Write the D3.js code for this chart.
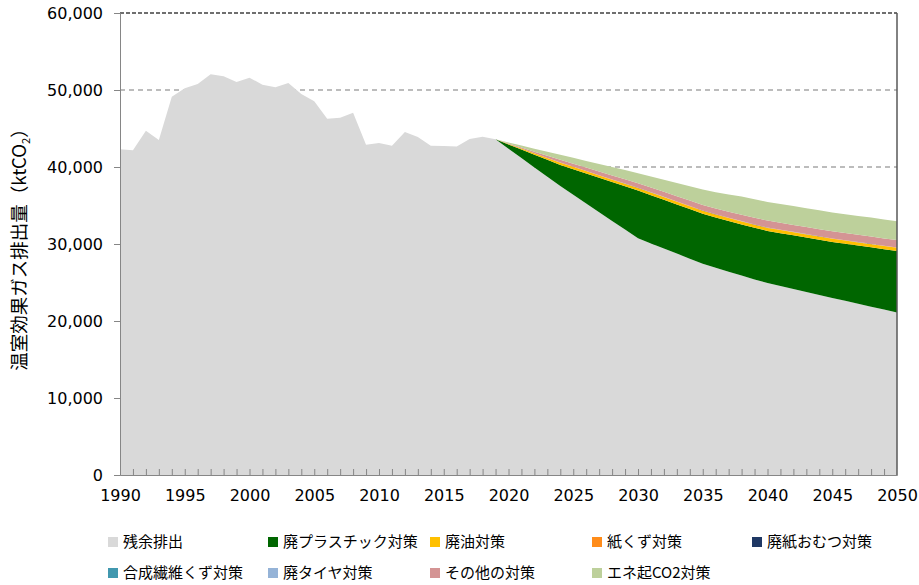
<!DOCTYPE html>
<html><head><meta charset="utf-8">
<script src="https://cdn.jsdelivr.net/npm/d3@7"></script>
<style>body{margin:0;background:#fff}svg{display:block}</style>
</head><body>
<svg id="c" width="919" height="585"></svg>
<script>
const years = d3.range(1990, 2051);
const seriesNames = ["残余排出","廃プラスチック対策","廃油対策","紙くず対策","廃紙おむつ対策","合成繊維くず対策","廃タイヤ対策","その他の対策","エネ起CO2対策"];
const seriesColors = ["#d9d9d9","#006600","#ffc000","#ff8c1a","#1f3864","#4198af","#95b3d7","#d49494","#bdd09b"];
const yTicks = [0,10000,20000,30000,40000,50000,60000];
const xTicks = [1990,1995,2000,2005,2010,2015,2020,2025,2030,2035,2040,2045,2050];

// 1990-2050
const residual = [42300,42170,44720,43500,49130,50220,50780,52040,51770,51040,51600,50690,50350,50910,49480,48530,46280,46400,47060,42900,43120,42770,44550,43900,42770,42730,42660,43640,43940,43590,
  42380,41170,39950,38740,37530,36400,35270,34130,33000,31870,30740,30080,29420,28760,28100,27440,26900,26400,25900,25400,24950,24560,24170,23780,23390,23000,22620,22240,21860,21480,21100];
// 2019-2050 (zero before)
const plastic = [0,550,1100,1640,2190,2730,3310,3890,4460,5040,5620,6200,6260,6320,6380,6440,6490,6530,6580,6640,6700,6750,6850,6960,7060,7170,7270,7420,7560,7710,7850,8000];
const wasteOil = [0,60,120,180,240,300,310,310,320,320,330,330,340,350,360,370,380,390,390,390,390,390,400,400,400,400,400,400,400,400,400,400];
const paper = [0,2,4,6,8,10,11,12,13,14,15,16,17,18,19,20,21,22,23,24,25,26,27,28,29,30,31,32,33,34,35,36];
const diaper = [0,1,1,2,2,3,3,4,4,5,5,5,6,6,6,7,7,7,8,8,8,8,9,9,9,9,10,10,10,10,10,10];
const fiber = [0,1,1,1,2,2,2,3,3,3,4,4,4,4,5,5,5,5,5,6,6,6,6,6,6,7,7,7,7,7,7,7];
const tire = [0,1,1,1,2,2,2,3,3,3,4,4,4,4,5,5,5,5,5,6,6,6,6,6,6,7,7,7,7,7,7,7];
const others = [0,70,140,210,280,350,390,430,480,520,560,600,630,650,680,700,720,750,790,830,870,900,900,900,910,910,920,920,930,940,940,950];
const energyCO2 = [0,130,260,390,520,650,760,870,980,1090,1200,1300,1440,1580,1720,1860,2000,2120,2240,2350,2400,2420,2430,2440,2450,2460,2460,2460,2460,2460,2450,2450];

const futureStart = 2019;
function full(arr){ return years.map(y => y < futureStart ? 0 : arr[y - futureStart]); }
const seriesData = [residual, full(plastic), full(wasteOil), full(paper), full(diaper), full(fiber), full(tire), full(others), full(energyCO2)];

const table = years.map((y,i) => { const o = {year:y}; seriesNames.forEach((n,k)=> o[n] = seriesData[k][i]); return o; });

const svg = d3.select("#c");
const L = 120, R = 897, T = 13, B = 475;
const x = d3.scaleLinear().domain([1990,2050]).range([L,R]);
const y = d3.scaleLinear().domain([0,60000]).range([B,T]);

// gridlines
svg.append("g").selectAll("line").data(yTicks.filter(d=>d>0)).join("line")
  .attr("x1",L).attr("x2",R).attr("y1",d=>y(d)).attr("y2",d=>y(d))
  .attr("stroke",d=> d===60000 ? "#404040" : "#a6a6a6")
  .attr("stroke-width",1.3)
  .attr("stroke-dasharray",d=> d===60000 ? "4,2" : "5,4");

// stacked areas
const stack = d3.stack().keys(seriesNames);
const layers = stack(table);
const area = d3.area().x(d=>x(d.data.year)).y0(d=>y(d[0])).y1(d=>y(d[1]));
svg.append("g").selectAll("path").data(layers).join("path")
  .attr("d", (d,i) => i===0 ? area(d) : area(d.filter(p=>p.data.year>=futureStart)))
  .attr("fill",(d,i)=>seriesColors[i]);

// right border
svg.append("line").attr("x1",R).attr("x2",R).attr("y1",T).attr("y2",B).attr("stroke","#595959").attr("stroke-width",1.5);

// y axis
const yAxis = d3.axisLeft(y).tickValues(yTicks).tickSize(6).tickPadding(11).tickFormat(d3.format(","));
const gy = svg.append("g").attr("transform",`translate(${L},0)`).call(yAxis);
gy.select(".domain").attr("stroke","#868686");
gy.selectAll(".tick line").attr("stroke","#868686");
gy.selectAll("text").attr("font-family","DejaVu Sans, Verdana, sans-serif").attr("font-size","16px").attr("fill","#000");

// x axis
const xAxis = d3.axisBottom(x).tickValues(years).tickSize(-6).tickPadding(15).tickFormat(d => xTicks.includes(d) ? d : "");
const gx = svg.append("g").attr("transform",`translate(0,${B})`).call(xAxis);
gx.select(".domain").attr("stroke","#868686");
gx.selectAll(".tick line").attr("stroke","#868686");
gx.selectAll("text").attr("font-family","DejaVu Sans, Verdana, sans-serif").attr("font-size","16px").attr("fill","#000");

// y title
const yt = svg.append("text").attr("transform","translate(26,245) rotate(-90)")
  .attr("text-anchor","middle").attr("font-family","Noto Sans CJK JP, sans-serif").attr("font-size","18.5px").attr("fill","#000");
yt.append("tspan").text("温室効果ガス排出量（ktCO");
yt.append("tspan").text("2").attr("font-size","11px").attr("dy","4");
yt.append("tspan").text("）").attr("dy","-4");

// legend
const legX = [108,268,430,592,752];
const legY = [542,573];
const lg = svg.append("g").selectAll("g").data(seriesNames).join("g")
  .attr("transform",(d,i)=>`translate(${legX[i%5]},${legY[Math.floor(i/5)]})`);
lg.append("rect").attr("x",0).attr("y",-5).attr("width",10).attr("height",10).attr("fill",(d,i)=>seriesColors[i]);
lg.append("text").attr("x",15).attr("y",0).attr("dy","0.36em").text(d=>d)
  .attr("font-family","Noto Sans CJK JP, sans-serif").attr("font-size","15px").attr("fill","#000");
</script>
</body></html>
